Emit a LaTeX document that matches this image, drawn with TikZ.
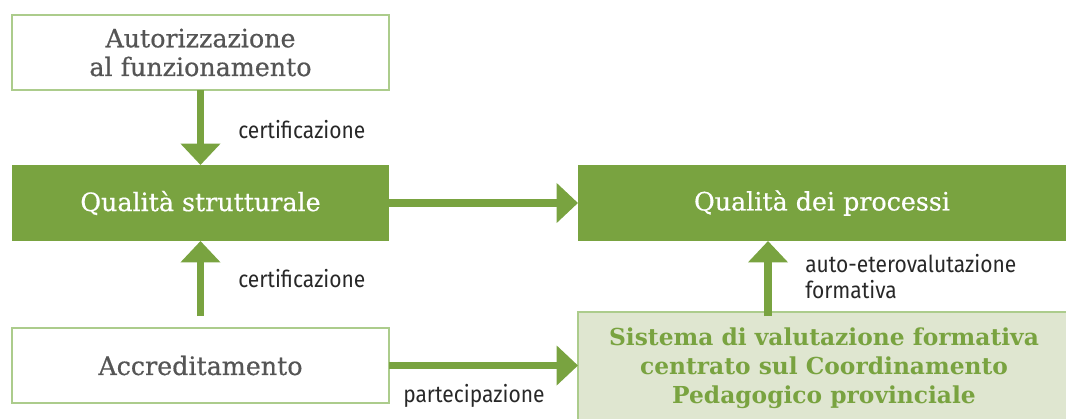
\documentclass[tikz,border=0pt]{standalone}
\usepackage{fontspec}
\setmainfont{DejaVu Serif}
\newfontfamily\headfont{DejaVu Serif}[FakeBold=0.6]
\newfontfamily\labelfont{Fira Sans}[FakeStretch=0.9]
\usetikzlibrary{arrows.meta}
\definecolor{leafgreen}{RGB}{121,163,64}
\definecolor{palegreen}{RGB}{223,230,208}
\definecolor{rimgreen}{RGB}{172,204,140}
\definecolor{slate}{RGB}{85,85,85}
\definecolor{inkgray}{RGB}{40,40,40}
\tikzset{
  plainbox/.style={rectangle, draw=rimgreen, line width=1pt, fill=white, text=slate,
    minimum width=282.75pt, minimum height=56.25pt, align=center, inner sep=0pt, outer sep=0pt,
    font=\headfont\fontsize{19}{21.5}\selectfont},
  solidbox/.style={plainbox, draw=none, fill=leafgreen, text=white, minimum height=57pt},
  flowarrow/.style={draw=leafgreen, line width=5.6pt, -{Triangle[width=29pt,length=16pt]}},
  tag/.style={font=\labelfont\fontsize{17.5}{19.5}\selectfont, text=inkgray, inner sep=0pt, align=left}
}
\begin{document}
\begin{tikzpicture}[x=0.75pt, y=-0.75pt]
  \useasboundingbox (0,0) rectangle (1066,418);
  % boxes
  \node (aut) at (200.5,52.5) [plainbox] {Autorizzazione\\al funzionamento};
  \node (qs) at (200.5,203) [solidbox] {Qualità strutturale};
  \node (acc) at (200.5,365.5) [plainbox] {Accreditamento};
  \node (qp) at (822,203) [solidbox, minimum width=366pt] {Qualità dei processi};
  \node (sis) at (824,368.5) [plainbox, fill=palegreen, draw=rimgreen, text=leafgreen,
    minimum width=369pt, minimum height=84.75pt, font=\bfseries\fontsize{17.5}{21.75}\selectfont]
    {Sistema di valutazione formativa\\centrato sul Coordinamento\\Pedagogico provinciale};
  % arrows
  \coordinate (accup) at (200.5,316);
  \coordinate (sisup) at (768,316);
  \draw[flowarrow] (aut) -- (qs);
  \draw[flowarrow] (accup) -- (qs.south);
  \draw[flowarrow] (qs) -- (qp);
  \draw[flowarrow] (acc.east) -- (acc.east -| sis.west);
  \draw[flowarrow] (sisup) -- (sisup |- qp.south);
  % labels
  \node (t1) at (238,130) [tag, anchor=west] {certificazione};
  \node (t2) at (238,279) [tag, anchor=west] {certificazione};
  \node (t3) at (403,396) [tag, anchor=west] {partecipazione};
  \node (t4) at (805,254) [tag, anchor=north west] {auto-eterovalutazione\\formativa};
\end{tikzpicture}
\end{document}
